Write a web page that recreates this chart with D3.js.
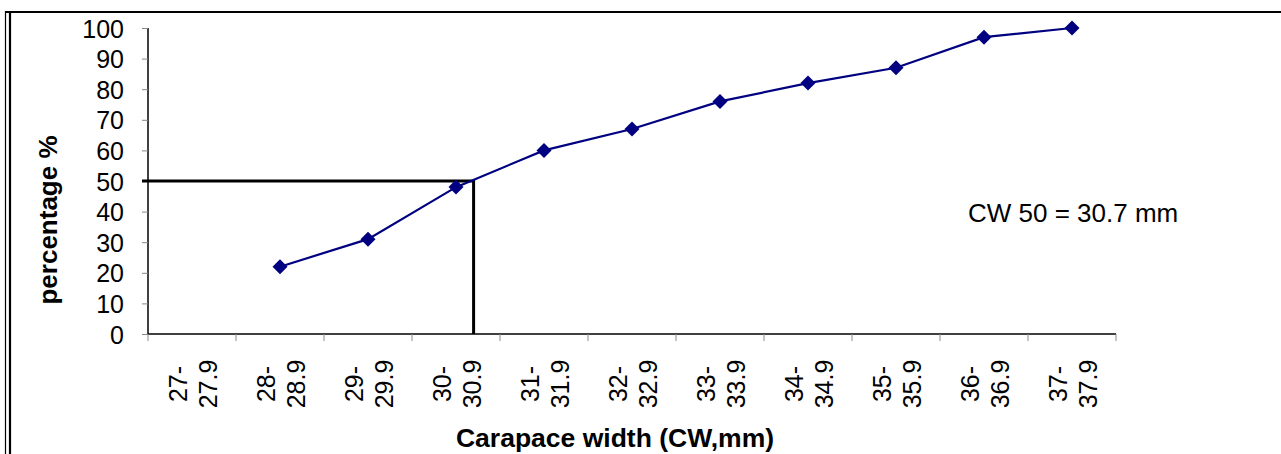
<!DOCTYPE html>
<html lang="en">
<head>
<meta charset="utf-8">
<title>Carapace width cumulative percentage</title>
<script src="https://cdnjs.cloudflare.com/ajax/libs/d3/7.8.5/d3.min.js"></script>
<style>
  body { margin: 0; background: #fff; }
  text { font-family: Arial, "Liberation Sans", sans-serif; }
</style>
</head>
<body>
<script>
// categories (carapace width classes) and cumulative percentage
var classLo = ["27-", "28-", "29-", "30-", "31-", "32-", "33-", "34-", "35-", "36-", "37-"];
var classHi = ["27.9", "28.9", "29.9", "30.9", "31.9", "32.9", "33.9", "34.9", "35.9", "36.9", "37.9"];
var pointClass = ["28.9", "29.9", "30.9", "31.9", "32.9", "33.9", "34.9", "35.9", "36.9", "37.9"];
var percent = [22, 31, 48, 60, 67, 76, 82, 87, 97, 100];
var yTicks = [0, 10, 20, 30, 40, 50, 60, 70, 80, 90, 100];
var cw50 = 30.7, level50 = 50;

var w = 1281, h = 454;
var svg = d3.select("body").append("svg").attr("width", w).attr("height", h);

// outer frame (double left line, top line)
svg.append("line").attr("x1", 5.5).attr("x2", 5.5).attr("y1", 11).attr("y2", h).attr("stroke", "#000").attr("stroke-width", 1.2);
svg.append("line").attr("x1", 10).attr("x2", 10).attr("y1", 12).attr("y2", h).attr("stroke", "#000").attr("stroke-width", 2.2);
svg.append("line").attr("x1", 5).attr("x2", w).attr("y1", 12).attr("y2", 12).attr("stroke", "#000").attr("stroke-width", 2.2);

var plotL = 148, plotR = 1116, plotT = 28, plotB = 334;

var x = d3.scaleBand().domain(classHi).range([plotL, plotR]).padding(0);
var xmm = d3.scaleLinear().domain([27, 38]).range([plotL, plotR]);
var y = d3.scaleLinear().domain([0, 100]).range([plotB, plotT]);

// y axis
var yAxis = svg.append("g").attr("transform", "translate(" + plotL + ",0)")
  .call(d3.axisLeft(y).tickValues(yTicks).tickSize(6).tickPadding(18));
yAxis.select(".domain").attr("stroke", "#000").attr("stroke-width", 1.5).attr("d", "M0," + plotB + "V" + plotT);
yAxis.selectAll(".tick line").attr("stroke", "#888");
yAxis.selectAll(".tick text").attr("font-size", 25).attr("font-family", "Arial, 'Liberation Sans', sans-serif")
  .attr("fill", "#000").attr("dy", "0.36em");

// x axis
var xAxis = svg.append("g").attr("transform", "translate(0," + plotB + ")")
  .call(d3.axisBottom(x).tickSize(0).tickFormat(""));
xAxis.select(".domain").attr("stroke", "#000").attr("stroke-width", 1.5).attr("d", "M" + plotL + ",0H" + plotR);
var edges = classHi.map(function(c) { return x(c); }).concat([plotR]);
xAxis.selectAll(".edge").data(edges).enter().append("line")
  .attr("x1", function(d) { return d; }).attr("x2", function(d) { return d; })
  .attr("y1", 0).attr("y2", 7).attr("stroke", "#888");

// rotated two-line category labels
classHi.forEach(function(c, i) {
  var cx = x(c) + x.bandwidth() / 2;
  var t = svg.append("text").attr("transform", "translate(" + cx + ",384) rotate(-90)")
    .attr("text-anchor", "middle").attr("font-size", 25);
  t.append("tspan").attr("x", 0).attr("dy", "-0.22em").text(classLo[i]);
  t.append("tspan").attr("x", 0).attr("dy", "1.2em").text(c);
});

// axis titles
svg.append("text").attr("transform", "translate(57,220) rotate(-90)")
  .attr("text-anchor", "middle").attr("font-size", 26).attr("font-weight", "bold").text("percentage %");
svg.append("text").attr("x", 615).attr("y", 447).attr("text-anchor", "middle")
  .attr("font-size", 26.5).attr("font-weight", "bold").text("Carapace width (CW,mm)");

// CW50 reference lines
svg.append("path")
  .attr("d", "M" + (plotL - 6) + "," + y(level50) + "H" + xmm(cw50) + "V" + plotB)
  .attr("fill", "none").attr("stroke", "#000").attr("stroke-width", 3);

// data line
var line = d3.line()
  .x(function(d, i) { return x(pointClass[i]) + x.bandwidth() / 2; })
  .y(function(d) { return y(d); });
svg.append("path").datum(percent).attr("d", line)
  .attr("fill", "none").attr("stroke", "#000080").attr("stroke-width", 2.2);

svg.selectAll(".pt").data(percent).enter().append("path")
  .attr("class", "pt")
  .attr("transform", function(d, i) { return "translate(" + (x(pointClass[i]) + x.bandwidth() / 2) + "," + y(d) + ")"; })
  .attr("d", "M0,-7.5L7.5,0L0,7.5L-7.5,0Z")
  .attr("fill", "#000080");

// annotation
svg.append("text").attr("x", 968).attr("y", 222).attr("font-size", 26).text("CW 50 = 30.7 mm");
</script>
</body>
</html>
